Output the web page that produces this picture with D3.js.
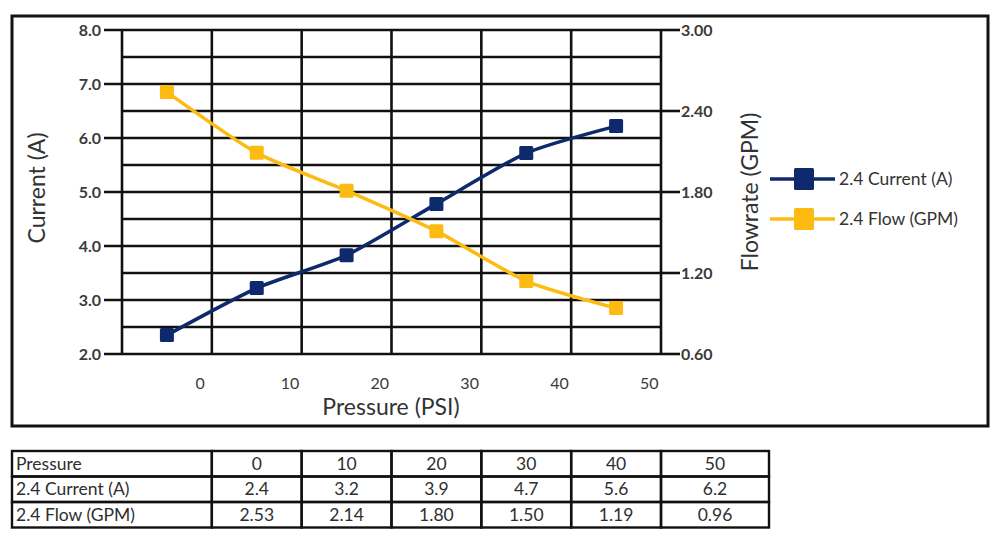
<!DOCTYPE html>
<html>
<head>
<meta charset="utf-8">
<title>Pressure vs Current and Flow</title>
<script src="https://d3js.org/d3.v7.min.js"></script>
<style>
  body { margin: 0; background: #fff; }
  svg { font-family: Lato, "Open Sans", sans-serif; }
  .grid line { stroke: #111; stroke-width: 2.6px; }
  .cell { fill: none; stroke: #111; stroke-width: 2.4px; }
</style>
</head>
<body>
<svg width="1000" height="538"></svg>
<script>
// data
var pressure = ["0", "10", "20", "30", "40", "50"];
var currentVals = [2.35, 3.22, 3.83, 4.78, 5.72, 6.22];
var flowVals = [2.54, 2.09, 1.81, 1.51, 1.14, 0.94];
var leftTicks = [2, 3, 4, 5, 6, 7, 8];
var rightTicks = [0.6, 1.2, 1.8, 2.4, 3.0];
var seriesNames = ["2.4 Current (A)", "2.4 Flow (GPM)"];
var seriesColors = ["#0e2a6c", "#fdbb12"];

// table text
var tableRows = [
  ["Pressure", "0", "10", "20", "30", "40", "50"],
  ["2.4 Current (A)", "2.4", "3.2", "3.9", "4.7", "5.6", "6.2"],
  ["2.4 Flow (GPM)", "2.53", "2.14", "1.80", "1.50", "1.19", "0.96"]
];

var svg = d3.select("svg");

var pLeft = 122, pRight = 661, pTop = 30, pBottom = 354;

var x = d3.scaleBand().domain(pressure).range([pLeft, pRight]);
var yL = d3.scaleLinear().domain([2, 8]).range([pBottom, pTop]);
var yR = d3.scaleLinear().domain([0.6, 3.0]).range([pBottom, pTop]);

// outer frame
svg.append("rect").attr("x", 12).attr("y", 16).attr("width", 976).attr("height", 410)
  .style("fill", "none").style("stroke", "#111").style("stroke-width", 3);

// grid
var g = svg.append("g").attr("class", "grid");
var halfSteps = d3.range(2, 8.01, 0.5);
g.selectAll("line.h").data(halfSteps).enter().append("line")
  .attr("x1", function(d) { return leftTicks.indexOf(d) >= 0 ? pLeft - 18 : pLeft; })
  .attr("x2", pRight)
  .attr("y1", function(d) { return yL(d); })
  .attr("y2", function(d) { return yL(d); });

var vx = pressure.map(function(p) { return x(p); }).concat([pRight]);
g.selectAll("line.v").data(vx).enter().append("line")
  .attr("x1", function(d) { return d; }).attr("x2", function(d) { return d; })
  .attr("y1", pTop).attr("y2", pBottom);

// right axis major tick marks
g.selectAll("line.r").data(rightTicks).enter().append("line")
  .attr("x1", pRight).attr("x2", pRight + 19)
  .attr("y1", function(d) { return yR(d); })
  .attr("y2", function(d) { return yR(d); });

// left tick labels
svg.append("g").selectAll("text").data(leftTicks).enter().append("text")
  .attr("x", pLeft - 21).attr("y", function(d) { return yL(d); })
  .attr("dy", "0.35em").attr("text-anchor", "end")
  .style("font-size", "16px").style("font-weight", "bold").style("fill", "#3a3a3a")
  .text(function(d) { return d3.format(".1f")(d); });

// right tick labels
svg.append("g").selectAll("text").data(rightTicks).enter().append("text")
  .attr("x", pRight + 20).attr("y", function(d) { return yR(d); })
  .attr("dy", "0.35em").attr("text-anchor", "start")
  .style("font-size", "16px").style("font-weight", "bold").style("fill", "#3a3a3a")
  .text(function(d) { return d3.format(".2f")(d); });

// x tick labels (shifted right as in the source chart)
svg.append("g").selectAll("text").data(pressure).enter().append("text")
  .attr("x", function(d) { return x(d) + x.bandwidth() * 0.87; })
  .attr("y", 389).attr("text-anchor", "middle")
  .style("font-size", "16px").style("fill", "#3a3a3a")
  .text(function(d) { return d; });

// axis titles
svg.append("text").attr("x", 391).attr("y", 415).attr("text-anchor", "middle")
  .style("font-size", "23px").style("fill", "#333").text("Pressure (PSI)");
svg.append("text").attr("transform", "translate(45,188) rotate(-90)").attr("text-anchor", "middle")
  .style("font-size", "23px").style("fill", "#333").text("Current (A)");
svg.append("text").attr("transform", "translate(758,192) rotate(-90)").attr("text-anchor", "middle")
  .style("font-size", "23px").style("fill", "#333").text("Flowrate (GPM)");

// series
var cx = function(d, i) { return x(pressure[i]) + x.bandwidth() / 2; };
var series = [
  { vals: currentVals, y: yL, color: seriesColors[0] },
  { vals: flowVals, y: yR, color: seriesColors[1] }
];
series.forEach(function(s) {
  var line = d3.line().x(cx).y(function(d) { return s.y(d); }).curve(d3.curveCardinal.tension(0.35));
  svg.append("path").attr("d", line(s.vals))
    .style("fill", "none").style("stroke", s.color).style("stroke-width", 3.5);
  svg.append("g").selectAll("rect").data(s.vals).enter().append("rect")
    .attr("x", function(d, i) { return cx(d, i) - 7; })
    .attr("y", function(d) { return s.y(d) - 7; })
    .attr("width", 14).attr("height", 14).attr("rx", 1.5)
    .style("fill", s.color);
});

// legend
var leg = svg.append("g").selectAll("g").data(seriesNames).enter().append("g")
  .attr("transform", function(d, i) { return "translate(770," + (179 + i * 40) + ")"; });
leg.append("line").attr("x1", 0).attr("x2", 65).attr("y1", 0).attr("y2", 0)
  .style("stroke", function(d, i) { return seriesColors[i]; }).style("stroke-width", 3.5);
leg.append("rect").attr("x", 24).attr("y", -11).attr("width", 20).attr("height", 22).attr("rx", 1.5)
  .style("fill", function(d, i) { return seriesColors[i]; });
leg.append("text").attr("x", 69).attr("y", 0).attr("dy", "0.35em")
  .style("font-size", "17.5px").style("fill", "#333").text(function(d) { return d; });

// data table: first column wide, then columns under the grid bands, last one wider
var colEdges = [12].concat(pressure.map(function(p) { return x(p) + x.bandwidth(); })).concat([769]);
colEdges.splice(colEdges.length - 2, 1, pRight);
var rowTop = 451, rowH = 25.5;
var t = svg.append("g");
tableRows.forEach(function(row, r) {
  row.forEach(function(txt, c) {
    var x0 = colEdges[c], x1 = colEdges[c + 1];
    t.append("rect").attr("class", "cell").attr("x", x0).attr("y", rowTop + r * rowH)
      .attr("width", x1 - x0).attr("height", rowH);
    t.append("text")
      .attr("x", c === 0 ? x0 + 4 : (x0 + x1) / 2)
      .attr("y", rowTop + r * rowH + rowH / 2).attr("dy", "0.35em")
      .attr("text-anchor", c === 0 ? "start" : "middle")
      .style("font-size", "17.5px").style("fill", "#2e2e2e")
      .text(txt);
  });
});
</script>
</body>
</html>
